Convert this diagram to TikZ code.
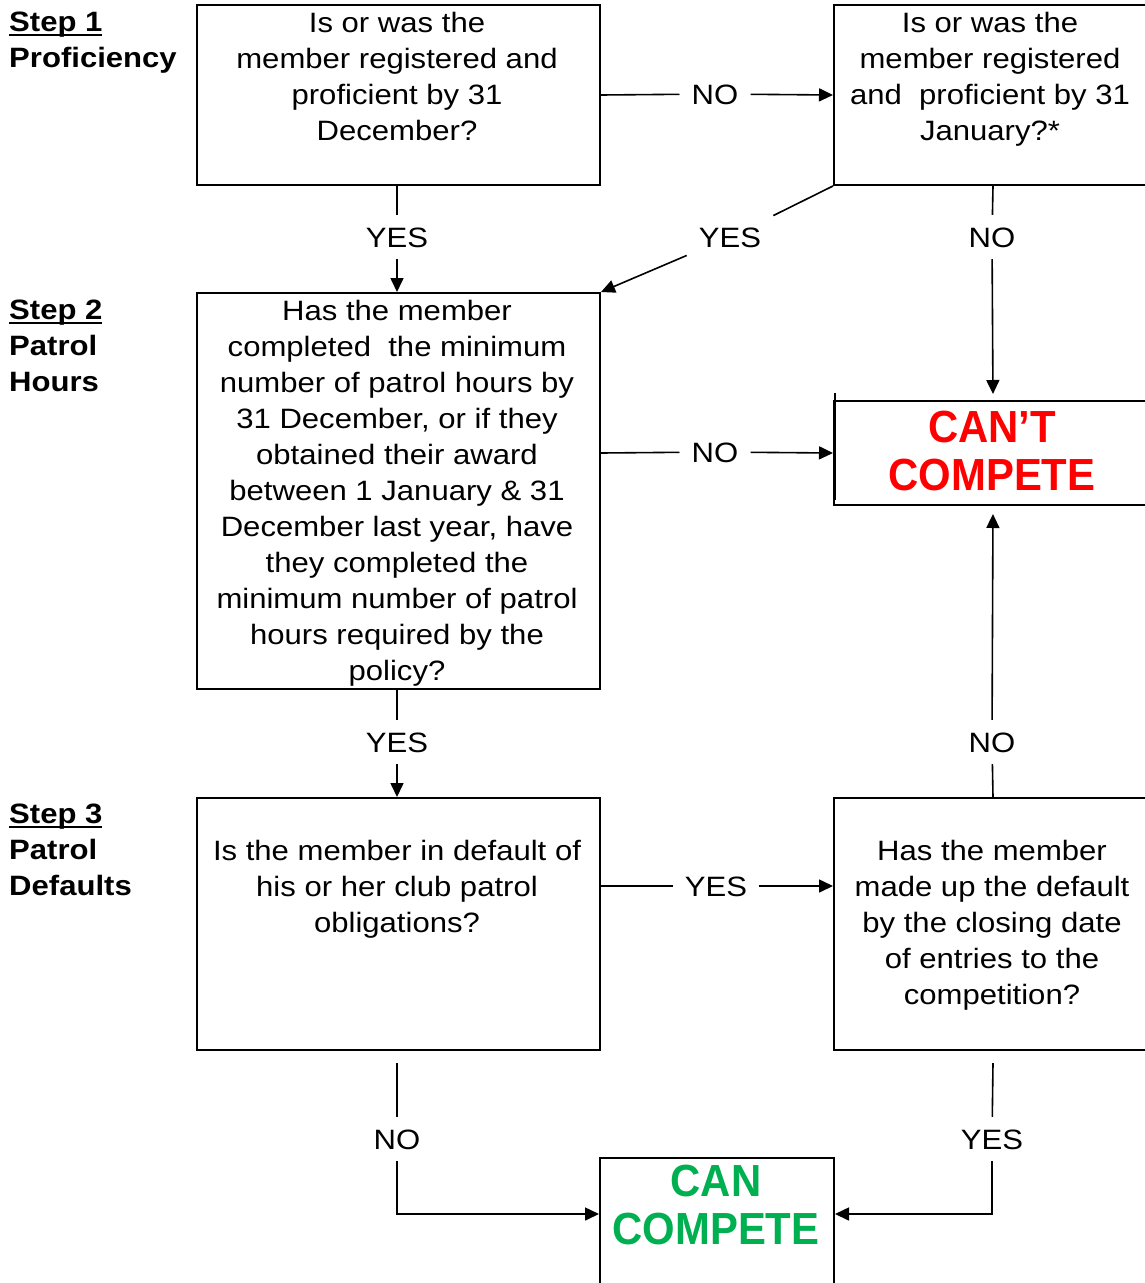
\documentclass[tikz,border=0pt]{standalone}
\usepackage{fontspec}
\setmainfont[FakeStretch=1.11]{Liberation Sans}
\newfontfamily\bigfont[FakeStretch=0.93]{Liberation Sans}
\usetikzlibrary{arrows.meta,calc}
\definecolor{cantred}{RGB}{255,0,0}
\definecolor{cangreen}{RGB}{0,176,80}
\newlength\ulw
\newcommand\myul[1]{\settowidth\ulw{#1}\rlap{\rule[-4.5pt]{\ulw}{2.5pt}}#1}
\tikzset{
  box/.style={draw, line width=2pt, rectangle, inner sep=0pt, anchor=north west},
  txt/.style={font=\fontsize{28}{36}\selectfont, align=center, inner sep=0pt, anchor=north},
  bigtxt/.style={font=\bigfont\fontsize{45}{48}\selectfont\bfseries, align=center, inner sep=0pt, anchor=north},
  steptxt/.style={font=\fontsize{28}{36}\selectfont\bfseries, align=left, inner sep=0pt, anchor=north west},
  lbl/.style={font=\fontsize{28}{36}\selectfont, inner xsep=12pt, inner ysep=12pt, text height=20pt, text depth=0pt},
  conn/.style={line width=1.6pt},
  arr/.style={line width=1.6pt, -{Triangle[length=14pt,width=13pt]}}
}
\begin{document}
\begin{tikzpicture}[x=1pt,y=-1pt]
\useasboundingbox (0,0) rectangle (1144,1283);
% boxes
\node[box, minimum width=403pt, minimum height=180pt] (A) at (196,4) {};
\node[box, minimum width=318pt, minimum height=180pt] (B) at (833,4) {};
\node[box, minimum width=403pt, minimum height=396pt] (C) at (196,292) {};
\node[box, minimum width=318pt, minimum height=104pt] (cant) at (833,400) {};
\node[box, minimum width=403pt, minimum height=252pt] (D) at (196,797) {};
\node[box, minimum width=318pt, minimum height=252pt] (E) at (833,797) {};
\node[box, minimum width=234pt, minimum height=140pt] (can) at (599,1157) {};
\draw[line width=1.2pt] (835,393) -- (835,500);
% box texts
\node[txt] (tA) at (397,12) {Is or was the\\member registered and\\proficient by 31\\December?};
\node[txt] (tB) at (990,12) {Is or was the\\member registered\\and\ \ proficient by 31\\January?*};
\node[txt] (tC) at (397,300) {Has the member\\completed\ \ the minimum\\number of patrol hours by\\31 December, or if they\\obtained their award\\between 1 January \& 31\\December last year, have\\they completed the\\minimum number of patrol\\hours required by the\\policy?};
\node[txt] (tD) at (397,840) {Is the member in default of\\his or her club patrol\\obligations?};
\node[txt] (tE) at (992,840) {Has the member\\made up the default\\by the closing date\\of entries to the\\competition?};
\node[bigtxt, text=cantred] (tcant) at (992,411) {CAN’T\\COMPETE};
\node[bigtxt, text=cangreen] (tcan) at (716,1165) {CAN\\COMPETE};
% step labels
\node[steptxt] (s1) at (9,12) {\myul{Step 1}\\Proficiency};
\node[steptxt] (s2) at (9,300) {\myul{Step 2}\\Patrol\\Hours};
\node[steptxt] (s3) at (9,804) {\myul{Step 3}\\Patrol\\Defaults};
% connector labels
\node[lbl] (l1) at (715,94) {NO};
\node[lbl] (l2) at (397,237) {YES};
\node[lbl] (l3) at (730,237) {YES};
\node[lbl] (l4) at (992,237) {NO};
\node[lbl] (l5) at (715,452) {NO};
\node[lbl] (l6) at (397,742) {YES};
\node[lbl] (l7) at (992,742) {NO};
\node[lbl] (l8) at (716,886) {YES};
\node[lbl] (l9) at (397,1139) {NO};
\node[lbl] (l10) at (992,1139) {YES};
% connectors
\draw[conn] (A.east) -- (l1);
\draw[arr] (l1) -- (B.west);
\draw[conn] (A.south -| l2) -- (l2);
\draw[arr] (l2) -- (C.north -| l2);
\draw[conn] (B.south west) -- (l3);
\draw[arr] (l3) -- (C.north east);
\draw[conn] (B.south) -- (l4);
\draw[arr, shorten >=6pt] (l4) -- (cant.north);
\draw[conn] (C.east |- cant.west) -- (l5);
\draw[arr] (l5) -- (cant.west);
\draw[conn] (C.south -| l6) -- (l6);
\draw[arr] (l6) -- (D.north -| l6);
\draw[conn] (E.north) -- (l7);
\draw[arr, shorten >=8pt] (l7) -- (cant.south);
\draw[conn] (D.east |- l8) -- (l8);
\draw[arr] (l8) -- (E.west |- l8);
\draw[conn] ([yshift=-12pt]D.south -| l9) -- (l9);
\draw[arr] (l9) |- ([yshift=14pt]can.west);
\draw[conn] ([yshift=-12pt]E.south) -- (l10);
\draw[arr] (l10) |- ([yshift=14pt]can.east);
\end{tikzpicture}
\end{document}
